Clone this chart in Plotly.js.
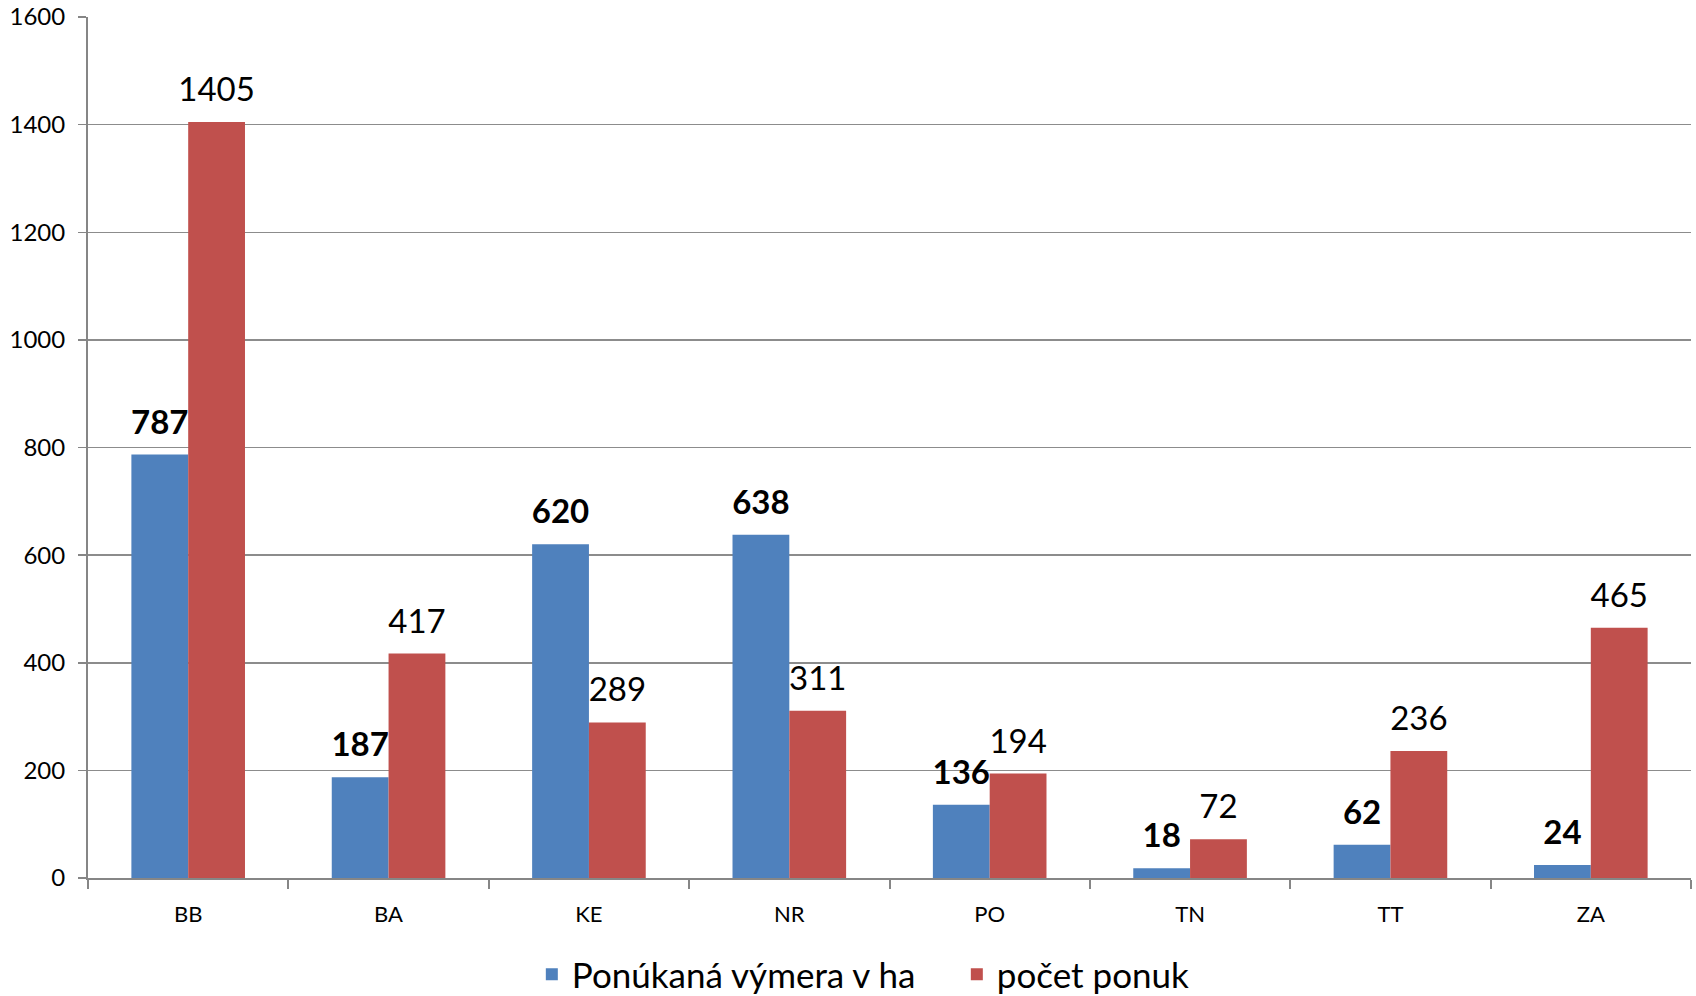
<!DOCTYPE html>
<html>
<head>
<meta charset="utf-8">
<script src="https://cdn.plot.ly/plotly-3.0.1.min.js"></script>
<style>
html,body{margin:0;padding:0;background:#fff;}
#chart{width:1696px;height:996px;}
</style>
</head>
<body>
<div id="chart"></div>
<script>
const categories = ["BB", "BA", "KE", "NR", "PO", "TN", "TT", "ZA"];
const vymera = [787, 187, 620, 638, 136, 18, 62, 24];
const pocetPonuk = [1405, 417, 289, 311, 194, 72, 236, 465];
const seriesNames = ["Ponúkaná výmera v ha", "počet ponuk"];
const yTicks = [0, 200, 400, 600, 800, 1000, 1200, 1400, 1600];

const FONT = "Lato, 'Open Sans', sans-serif";

// label text: a tall invisible space on each side adds a little room under the number
const pad = "<span style='font-size:85px'>\u00A0</span>";
const labelText = v => pad + String(v) + pad;

const traces = [
  {
    type: "bar",
    name: seriesNames[0],
    x: categories,
    y: vymera,
    marker: {color: "#4F81BD"},
    text: vymera.map(labelText),
    textposition: "outside",
    constraintext: "none",
    cliponaxis: false,
    textfont: {family: FONT, size: 33, color: "#000", weight: "bold"},
    hoverinfo: "x+y"
  },
  {
    type: "bar",
    name: seriesNames[1],
    x: categories,
    y: pocetPonuk,
    marker: {color: "#C0504D"},
    text: pocetPonuk.map(labelText),
    textposition: "outside",
    constraintext: "none",
    cliponaxis: false,
    textfont: {family: FONT, size: 33, color: "#000"},
    hoverinfo: "x+y"
  }
];

const layout = {
  width: 1696,
  height: 996,
  margin: {l: 88, r: 5, t: 17, b: 118, pad: 0, autoexpand: false},
  paper_bgcolor: "#fff",
  plot_bgcolor: "#fff",
  font: {family: FONT, size: 22, color: "#000"},
  barmode: "group",
  bargap: 0.433,
  bargroupgap: 0,
  showlegend: true,
  legend: {
    orientation: "h",
    x: 0.542,
    xanchor: "center",
    y: -0.112,
    yanchor: "middle",
    font: {family: FONT, size: 35, color: "#000"},
    itemwidth: 30,
    entrywidth: 380,
    tracegroupgap: 0
  },
  xaxis: {
    type: "category",
    showgrid: false,
    showline: true,
    linecolor: "#868686",
    linewidth: 2,
    ticks: "outside",
    tickson: "boundaries",
    ticklen: 9,
    tickwidth: 2,
    tickcolor: "#868686",
    ticklabelstandoff: 16,
    tickfont: {family: FONT, size: 22, color: "#000"},
    zeroline: false
  },
  yaxis: {
    range: [0, 1600],
    tickvals: yTicks,
    ticktext: yTicks.map(String),
    showgrid: true,
    gridcolor: "#8c8c8c",
    gridwidth: 1.5,
    showline: true,
    linecolor: "#868686",
    linewidth: 2,
    ticks: "outside",
    ticklen: 8,
    tickwidth: 1.5,
    tickcolor: "#868686",
    ticklabelstandoff: 8,
    tickfont: {family: FONT, size: 24, color: "#000"},
    zeroline: false
  }
};

Plotly.newPlot("chart", traces, layout, {displayModeBar: false, staticPlot: true});
</script>
</body>
</html>
